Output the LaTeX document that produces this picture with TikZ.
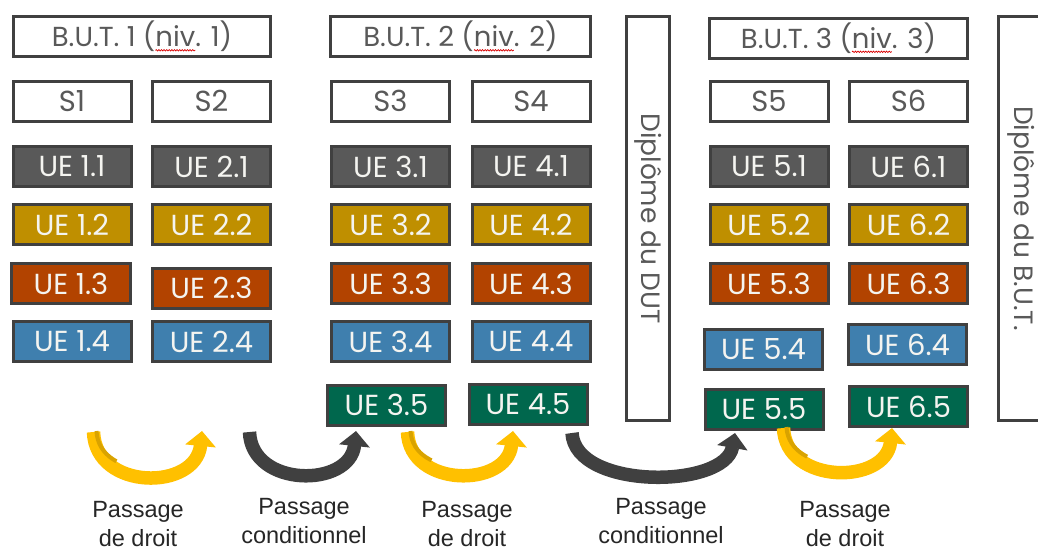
\documentclass[tikz,border=0pt]{standalone}
\usepackage{fontspec}
\setmainfont{Liberation Sans}
\newfontfamily\boxfont{Poppins}
\usetikzlibrary{arrows.meta,decorations.pathmorphing}
\definecolor{ueGrey}{HTML}{595959}
\definecolor{ueGold}{HTML}{BF8F00}
\definecolor{ueRust}{HTML}{B24300}
\definecolor{ueBlue}{HTML}{3F7FAE}
\definecolor{ueGreen}{HTML}{00674D}
\definecolor{edgeCol}{HTML}{404040}
\definecolor{hdrText}{HTML}{595959}
\definecolor{ueText}{HTML}{F4F4F0}
\definecolor{arrYellow}{HTML}{FFC000}
\definecolor{arrShade}{HTML}{D9A300}
\definecolor{arrDark}{HTML}{404040}
\definecolor{lblText}{HTML}{262626}
\newcommand{\wavyword}[1]{\setbox0\hbox{#1}\rlap{\tikz[baseline=0pt]{\useasboundingbox (0pt,0pt);\draw[overlay,draw=red!85!black,fill=none,line width=0.7pt,decorate,decoration={snake,amplitude=0.7pt,segment length=2.6pt}] (0pt,-3.5pt) -- (\the\wd0,-3.5pt);}}\box0}
\tikzset{
  boxbase/.style={rectangle, draw=edgeCol, line width=3pt, inner sep=0pt,
    minimum width=118pt, minimum height=40pt,
    font=\boxfont\fontsize{29}{29}\selectfont},
  ue/.style={boxbase, fill=#1, text=ueText},
  hdr/.style={boxbase, fill=white, text=hdrText},
  yearhdr/.style={hdr, font=\boxfont\fontsize{27.5}{27.5}\selectfont},
  vbox/.style={boxbase, fill=white, text=hdrText, rotate=-90,
    minimum width=404pt, minimum height=43pt,
    font=\boxfont\fontsize{26.5}{26.5}\selectfont},
  lbl/.style={align=center, text=lblText, font=\fontsize{23.5}{29}\selectfont},
  passDroit/.style={draw=arrYellow, line width=13.5pt, -{Triangle[width=30pt,length=15pt]}},
  passCond/.style={draw=arrDark, line width=13.5pt, -{Triangle[width=30pt,length=15pt]}},
  shadeStreak/.style={draw=arrShade, line width=4pt, dash pattern=on 38pt off 600pt}
}
\begin{document}
\begin{tikzpicture}[x=1pt,y=-1pt]
\useasboundingbox (0,0) rectangle (1038,552);
% year headers
\node[yearhdr, minimum width=257pt] (but1) at (142,36.5) {B.U.T. 1 (\wavyword{niv}. 1)};
\node[yearhdr, minimum width=260pt] (but2) at (460.5,36.5) {B.U.T. 2 (\wavyword{niv}. 2)};
\node[yearhdr, minimum width=258pt] (but3) at (838.5,38) {B.U.T. 3 (\wavyword{niv}. 3)};
% semesters
\node[hdr] (s1) at (72,101) {S1};
\node[hdr] (s2) at (211.5,101) {S2};
\node[hdr] (s3) at (390.5,101) {S3};
\node[hdr] (s4) at (531,101) {S4};
\node[hdr] (s5) at (769,101) {S5};
\node[hdr] (s6) at (908.5,101) {S6};
% UE row 1
\node[ue=ueGrey] (u11) at (72,166.5) {UE 1.1};
\node[ue=ueGrey] (u21) at (211.5,166.5) {UE 2.1};
\node[ue=ueGrey] (u31) at (390.5,166.5) {UE 3.1};
\node[ue=ueGrey] (u41) at (531,166.5) {UE 4.1};
\node[ue=ueGrey] (u51) at (769,166.5) {UE 5.1};
\node[ue=ueGrey] (u61) at (908.5,166.5) {UE 6.1};
% UE row 2
\node[ue=ueGold] (u12) at (72,224.5) {UE 1.2};
\node[ue=ueGold] (u22) at (211.5,224.5) {UE 2.2};
\node[ue=ueGold] (u32) at (390.5,224.5) {UE 3.2};
\node[ue=ueGold] (u42) at (531,224.5) {UE 4.2};
\node[ue=ueGold] (u52) at (769,224.5) {UE 5.2};
\node[ue=ueGold] (u62) at (908.5,224.5) {UE 6.2};
% UE row 3
\node[ue=ueRust, minimum width=119pt] (u13) at (71,283.5) {UE 1.3};
\node[ue=ueRust] (u23) at (211.5,288) {UE 2.3};
\node[ue=ueRust] (u33) at (390.5,283.5) {UE 3.3};
\node[ue=ueRust] (u43) at (531,283.5) {UE 4.3};
\node[ue=ueRust] (u53) at (769,283.5) {UE 5.3};
\node[ue=ueRust] (u63) at (908.5,283.5) {UE 6.3};
% UE row 4
\node[ue=ueBlue] (u14) at (72,341.5) {UE 1.4};
\node[ue=ueBlue] (u24) at (211.5,341.5) {UE 2.4};
\node[ue=ueBlue] (u34) at (390.5,341.5) {UE 3.4};
\node[ue=ueBlue] (u44) at (531,341.5) {UE 4.4};
\node[ue=ueBlue] (u54) at (763.5,349.5) {UE 5.4};
\node[ue=ueBlue] (u64) at (907.5,344.5) {UE 6.4};
% UE row 5
\node[ue=ueGreen] (u35) at (386.5,405) {UE 3.5};
\node[ue=ueGreen] (u45) at (528,404.5) {UE 4.5};
\node[ue=ueGreen] (u55) at (764,409.5) {UE 5.5};
\node[ue=ueGreen] (u65) at (908.5,406.5) {UE 6.5};
% diplomas
\node[vbox] (dut) at (648,218.5) {Diplôme du DUT};
\node[vbox, minimum height=46pt] (dbut) at (1021.5,218.5) {\raisebox{-4pt}{Diplôme du B.U.T.}};
% arrows
\coordinate (a1s) at (93.5,432); \coordinate (a1e) at (202,431);
\coordinate (a2s) at (249.5,432); \coordinate (a2e) at (356,431);
\coordinate (a3s) at (407.5,432); \coordinate (a3e) at (513,431);
\coordinate (a4s) at (572,433); \coordinate (a4e) at (735,433);
\coordinate (a5s) at (783.5,428); \coordinate (a5e) at (892,428);
\draw[passDroit] (a1s) .. controls +(2,59) and +(-6,60) .. (a1e);
\draw[passCond] (a2s) .. controls +(2,56) and +(-6,57) .. (a2e);
\draw[passDroit] (a3s) .. controls +(2,56) and +(-6,57) .. (a3e);
\draw[passCond] (a4s) .. controls +(3,57) and +(-10,56) .. (a4e);
\draw[passDroit] (a5s) .. controls +(2,57) and +(-6,57) .. (a5e);
% inner shading of the yellow arrows
\draw[shadeStreak] ([xshift=3pt,yshift=1pt]a1s) .. controls +(2,50) and +(-4,50) .. ([xshift=-3pt]a1e);
\draw[shadeStreak] ([xshift=3pt,yshift=1pt]a3s) .. controls +(2,47) and +(-4,47) .. ([xshift=-3pt]a3e);
\draw[shadeStreak] ([xshift=3pt,yshift=1pt]a5s) .. controls +(2,48) and +(-4,48) .. ([xshift=-3pt]a5e);
% labels
\node[lbl] (l1) at (138,524) {Passage\\de droit};
\node[lbl] (l2) at (304,521) {Passage\\conditionnel};
\node[lbl] (l3) at (467,524) {Passage\\de droit};
\node[lbl] (l4) at (661,521) {Passage\\conditionnel};
\node[lbl] (l5) at (845,524) {Passage\\de droit};
\end{tikzpicture}
\end{document}
